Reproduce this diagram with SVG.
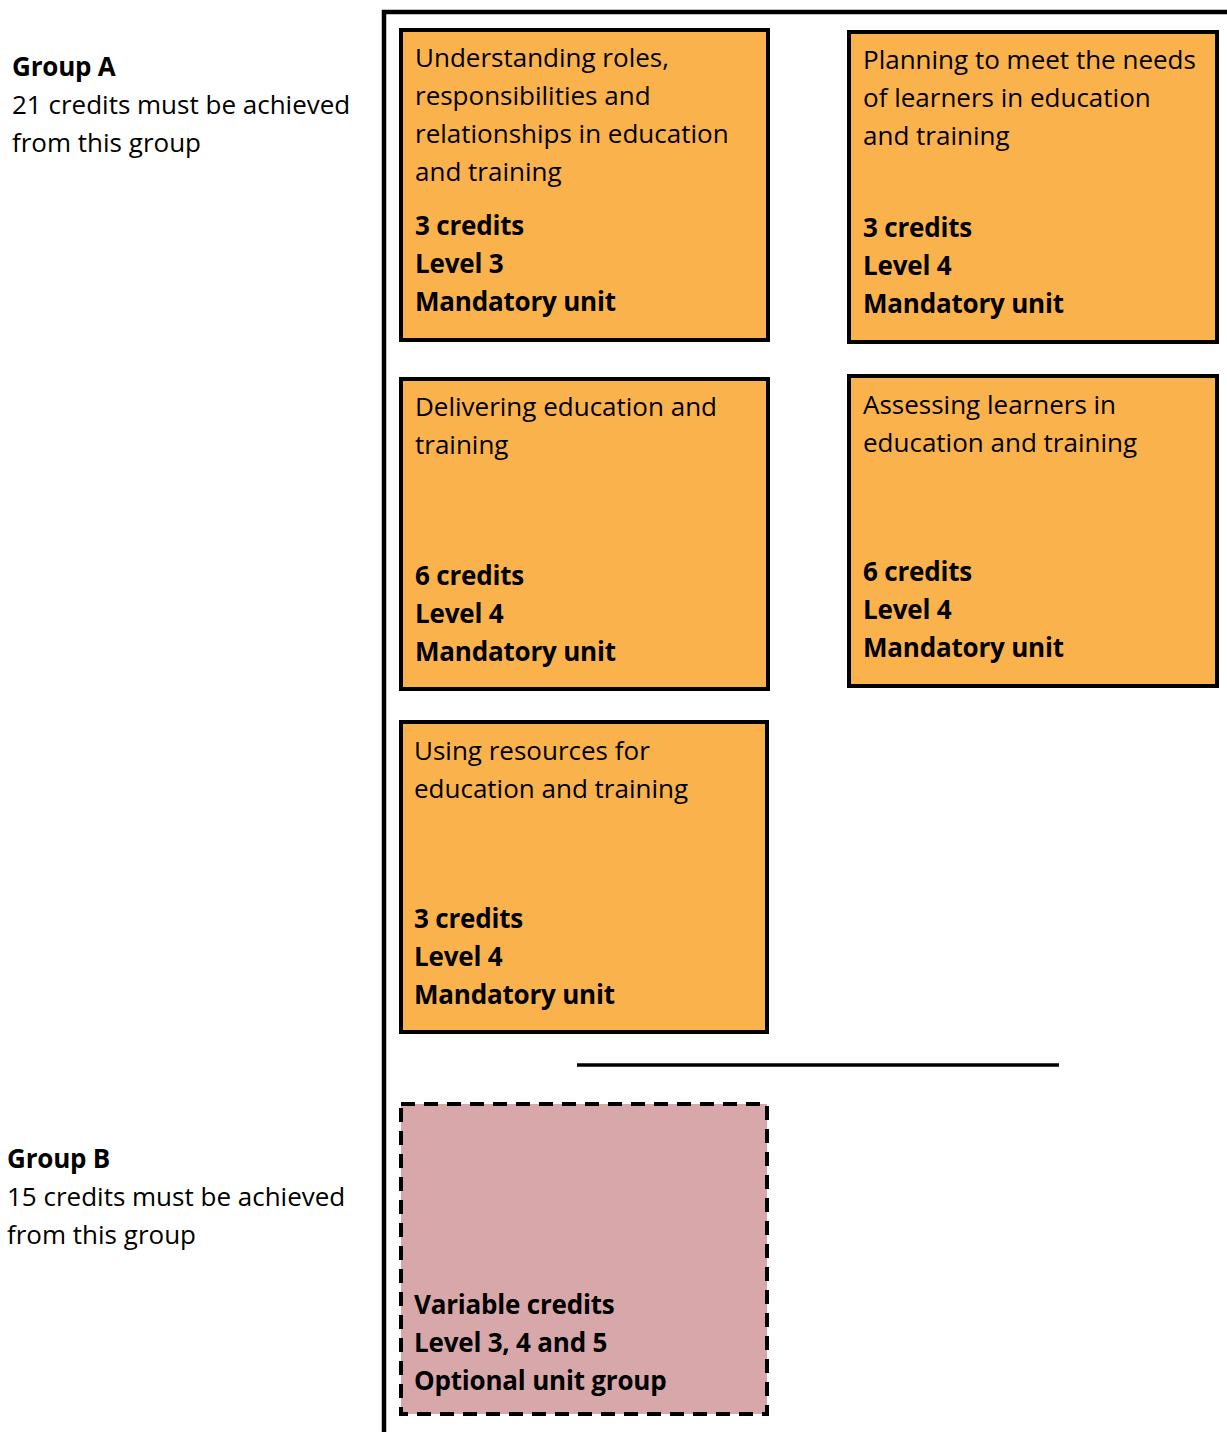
<svg xmlns="http://www.w3.org/2000/svg" width="1227" height="1432" viewBox="0 0 1227 1432">
<style>
text{font-family:"Open Sans","Noto Sans",sans-serif;font-size:26px;fill:#000}
.b{font-weight:bold;letter-spacing:-0.2px}
.unit{fill:#FAB24C;stroke:#000;stroke-width:4}
.opt{fill:#D8A7A9;stroke:#000;stroke-width:4;stroke-dasharray:14 9}
.frame{fill:none;stroke:#000;stroke-width:4.5}
</style>
<rect width="1227" height="1432" fill="#fff"/>
<g id="connectors">
<path class="frame" d="M384,1432 V12 H1227"/>
<line x1="577" y1="1065" x2="1059" y2="1065" stroke="#000" stroke-width="3.5"/>
</g>
<g id="groupA">
<text x="12" y="76" class="b">Group A</text>
<text x="12" y="114">21 credits must be achieved</text>
<text x="12" y="152">from this group</text>
</g>
<g id="groupB">
<text x="7" y="1168" class="b">Group B</text>
<text x="7" y="1206">15 credits must be achieved</text>
<text x="7" y="1244">from this group</text>
</g>
<g id="unit1">
<rect class="unit" x="401" y="30" width="367" height="310"/>
<text x="415" y="67">Understanding roles,</text>
<text x="415" y="105">responsibilities and</text>
<text x="415" y="143">relationships in education</text>
<text x="415" y="181">and training</text>
<text x="415" y="235" class="b">3 credits</text>
<text x="415" y="273" class="b">Level 3</text>
<text x="415" y="311" class="b">Mandatory unit</text>
</g>
<g id="unit2">
<rect class="unit" x="849" y="32" width="368" height="310"/>
<text x="863" y="69">Planning to meet the needs</text>
<text x="863" y="107">of learners in education</text>
<text x="863" y="145">and training</text>
<text x="863" y="237" class="b">3 credits</text>
<text x="863" y="275" class="b">Level 4</text>
<text x="863" y="313" class="b">Mandatory unit</text>
</g>
<g id="unit3">
<rect class="unit" x="401" y="379" width="367" height="310"/>
<text x="415" y="416">Delivering education and</text>
<text x="415" y="454">training</text>
<text x="415" y="585" class="b">6 credits</text>
<text x="415" y="623" class="b">Level 4</text>
<text x="415" y="661" class="b">Mandatory unit</text>
</g>
<g id="unit4">
<rect class="unit" x="849" y="376" width="368" height="310"/>
<text x="863" y="414">Assessing learners in</text>
<text x="863" y="452">education and training</text>
<text x="863" y="581" class="b">6 credits</text>
<text x="863" y="619" class="b">Level 4</text>
<text x="863" y="657" class="b">Mandatory unit</text>
</g>
<g id="unit5">
<rect class="unit" x="401" y="722" width="366" height="310"/>
<text x="414" y="760">Using resources for</text>
<text x="414" y="798">education and training</text>
<text x="414" y="928" class="b">3 credits</text>
<text x="414" y="966" class="b">Level 4</text>
<text x="414" y="1004" class="b">Mandatory unit</text>
</g>
<g id="optional">
<rect class="opt" x="401" y="1104" width="366" height="310"/>
<text x="414" y="1314" class="b">Variable credits</text>
<text x="414" y="1352" class="b">Level 3, 4 and 5</text>
<text x="414" y="1390" class="b">Optional unit group</text>
</g>
</svg>
